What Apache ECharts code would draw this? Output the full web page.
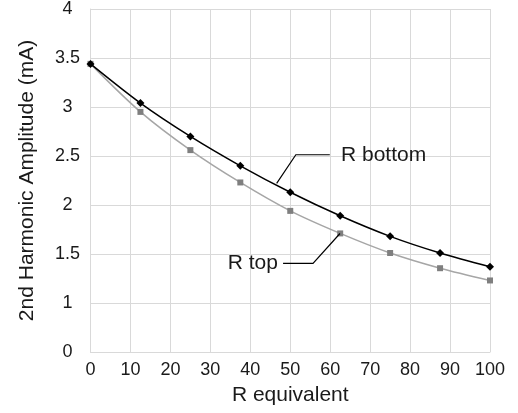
<!DOCTYPE html>
<html>
<head>
<meta charset="utf-8">
<script src="https://cdn.jsdelivr.net/npm/echarts@6/dist/echarts.min.js"></script>
<style>
  html, body { margin: 0; padding: 0; background: #fff; }
  #chart { width: 518px; height: 413px; }
</style>
</head>
<body>
<div id="chart"></div>
<script>
// ---- data ----
const xValues = [0, 12.5, 25, 37.5, 50, 62.5, 75, 87.5, 100];
const rBottom = [3.44, 3.04, 2.70, 2.40, 2.13, 1.89, 1.68, 1.51, 1.37];
const rTop    = [3.44, 2.95, 2.56, 2.23, 1.94, 1.71, 1.51, 1.355, 1.23];
const seriesNames = ['R bottom', 'R top'];
const xTickValues = [0, 10, 20, 30, 40, 50, 60, 70, 80, 90, 100];
// bottom gridline of the original is labelled "0"
const yTickLabels = { 0.5: '0', 1: '1', 1.5: '1.5', 2: '2', 2.5: '2.5', 3: '3', 3.5: '3.5', 4: '4' };
const xAxisName = 'R equivalent';
const yAxisName = '2nd Harmonic Amplitude (mA)';

// annotation leader paths (data coordinates) and label anchors
const bottomLeader = [[46.6, 2.22], [51.4, 2.513], [59.9, 2.513]];
const bottomLabelAt = [62.7, 2.51];
const topLeader = [[48.2, 1.405], [55.7, 1.405], [62.45, 1.709]];
const topLabelAt = [46.9, 1.41];

const FONT = '"Liberation Sans", Arial, Helvetica, sans-serif';
const TXT = '#1a1a1a';

const chart = echarts.init(document.getElementById('chart'), null, { renderer: 'canvas' });

const pair = (xs, ys) => xs.map((x, i) => [x, ys[i]]);

chart.setOption({
  animation: false,
  backgroundColor: '#ffffff',
  grid: { left: 90.5, right: 28, top: 8, bottom: 61 },
  xAxis: {
    type: 'value', min: 0, max: 100, interval: 10,
    name: xAxisName, nameLocation: 'middle', nameGap: 33,
    nameTextStyle: { fontFamily: FONT, fontSize: 21, color: TXT },
    axisLine: { show: true, lineStyle: { color: '#d9d9d9', width: 1 } },
    axisTick: { show: false },
    axisLabel: { fontFamily: FONT, fontSize: 18, color: TXT, margin: 9,
      formatter: v => xTickValues.includes(v) ? String(v) : '' },
    splitLine: { show: true, lineStyle: { color: '#d9d9d9', width: 1 } }
  },
  yAxis: {
    type: 'value', min: 0.5, max: 4, interval: 0.5,
    name: yAxisName, nameLocation: 'middle', nameGap: 53,
    nameTextStyle: { fontFamily: FONT, fontSize: 21, color: TXT },
    axisLine: { show: true, lineStyle: { color: '#d9d9d9', width: 1 } },
    axisTick: { show: false },
    axisLabel: { fontFamily: FONT, fontSize: 18, color: TXT, margin: 23, align: 'center',
      formatter: v => yTickLabels[v] !== undefined ? yTickLabels[v] : '' },
    splitLine: { show: true, lineStyle: { color: '#d9d9d9', width: 1 } }
  },
  series: [
    {
      name: seriesNames[1], type: 'line', smooth: 0.3, data: pair(xValues, rTop),
      symbol: 'rect', symbolSize: 6,
      itemStyle: { color: '#7f7f7f' },
      lineStyle: { color: '#a6a6a6', width: 1.5 },
      z: 2
    },
    {
      name: seriesNames[0], type: 'line', smooth: 0.3, data: pair(xValues, rBottom),
      symbol: 'diamond', symbolSize: 8,
      itemStyle: { color: '#000000' },
      lineStyle: { color: '#000000', width: 1.5 },
      z: 3
    }
  ]
});

function px(p) { return chart.convertToPixel({ gridIndex: 0 }, p); }

const b = bottomLabelAt && px(bottomLabelAt);
const t = px(topLabelAt);
chart.setOption({
  graphic: [
    { type: 'polyline', shape: { points: bottomLeader.map(px) }, style: { stroke: '#000', lineWidth: 1.2, fill: null }, z: 10 },
    { type: 'polyline', shape: { points: topLeader.map(px) }, style: { stroke: '#000', lineWidth: 1.2, fill: null }, z: 10 },
    { type: 'text', x: b[0], y: b[1], style: { text: seriesNames[0], font: '21px ' + FONT, fill: TXT, textAlign: 'left', textVerticalAlign: 'middle' }, z: 10 },
    { type: 'text', x: t[0], y: t[1], style: { text: seriesNames[1], font: '21px ' + FONT, fill: TXT, textAlign: 'right', textVerticalAlign: 'middle' }, z: 10 }
  ]
});
</script>
</body>
</html>
